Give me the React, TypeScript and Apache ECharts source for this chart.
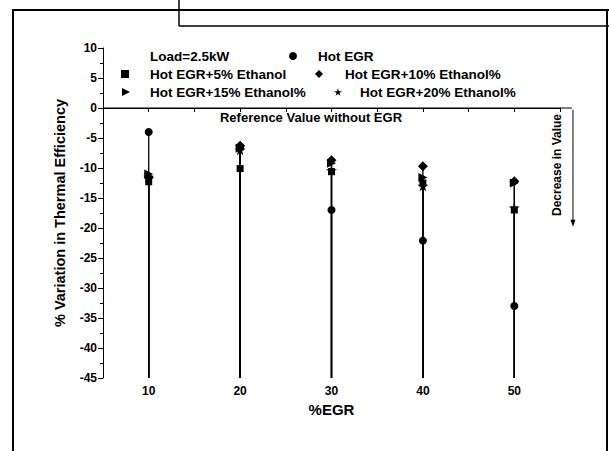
import React, { useEffect, useRef } from 'react';
import * as echarts from 'echarts';

const egr = [10, 20, 30, 40, 50];
const hotEGR = [-4.0, -6.5, -17.0, -22.1, -33.0];
const eth5 = [-12.3, -10.1, -10.6, -12.5, -17.0];
const eth10 = [-11.6, -6.3, -8.7, -9.7, -12.2];
const eth15 = [-11.0, -6.7, -9.2, -11.6, -12.5];
const eth20 = [-11.5, -7.0, -10.4, -13.0, -16.6];

const seriesNames = [
  'Hot EGR',
  'Hot EGR+5% Ethanol',
  'Hot EGR+10% Ethanol%',
  'Hot EGR+15% Ethanol%',
  'Hot EGR+20% Ethanol%',
];
const seriesValues = [hotEGR, eth5, eth10, eth15, eth20];

const xMin = 5;
const xMax = 55;
const yMin = -45;
const yMax = 10;
const refValue = 0;
const refLineEnd = 56.3;
const arrowX = 56.42;
const arrowFrom = -0.3;
const arrowTo = -19.8;

const FONT = '"Liberation Sans", Arial, sans-serif';

const STAR = 'path://M50,0 L61,35 L98,35 L68,57 L79,91 L50,70 L21,91 L32,57 L2,35 L39,35 Z';
const RTRI = 'path://M0,0 L10,5 L0,10 Z';
const symbols = ['circle', 'rect', 'diamond', RTRI, STAR];
const sizes = [8, 7, 10, 9, 11];

export default function App() {
  const ref = useRef<HTMLDivElement>(null);
  useEffect(() => {
    if (!ref.current) return;
    const chart = echarts.init(ref.current, undefined, { renderer: 'svg' });

    const scatter = seriesNames.map((name, i) => ({
      type: 'scatter',
      name,
      data: egr.map((x, j) => [x, seriesValues[i][j]]),
      symbol: symbols[i],
      symbolSize: sizes[i],
      symbolKeepAspect: true,
      itemStyle: { color: '#000', opacity: 1 },
      z: 3 + i,
    }));

    const stemData: number[][] = [];
    seriesValues.forEach((vals) => egr.forEach((x, j) => stemData.push([x, vals[j]])));

    const legendPos = [
      { left: 289, top: 48, pad: 16 },
      { left: 121, top: 66, pad: 16 },
      { left: 315, top: 66, pad: 17 },
      { left: 122, top: 84, pad: 15 },
      { left: 334, top: 84, pad: 13 },
    ];

    chart.setOption({
      animation: false,
      backgroundColor: '#fff',
      grid: { left: 103, top: 48, width: 457, height: 330 },
      legend: seriesNames.map((name, i) => ({
        data: [name],
        left: legendPos[i].left,
        top: legendPos[i].top,
        padding: 0,
        itemWidth: 8,
        itemHeight: 8,
        selectedMode: false,
        textStyle: {
          fontFamily: FONT,
          fontWeight: 'bold',
          fontSize: 13.5,
          color: '#000',
          lineHeight: 16,
          padding: [0, 0, 0, legendPos[i].pad],
        },
      })),
      xAxis: {
        type: 'value',
        min: xMin,
        max: xMax,
        interval: 5,
        name: '%EGR',
        nameLocation: 'middle',
        nameGap: 22,
        nameTextStyle: { fontFamily: FONT, fontWeight: 'bold', fontSize: 15, color: '#000' },
        axisLine: { show: true, lineStyle: { color: '#000', width: 1 } },
        axisTick: { show: true, length: 4, lineStyle: { color: '#000' } },
        axisLabel: {
          margin: 7,
          fontFamily: FONT,
          fontWeight: 'bold',
          fontSize: 12,
          color: '#000',
          formatter: (v: number) => (v % 10 === 0 ? String(v) : ''),
        },
        splitLine: { show: false },
      },
      yAxis: {
        type: 'value',
        min: yMin,
        max: yMax,
        interval: 5,
        name: '% Variation in Thermal Efficiency',
        nameLocation: 'middle',
        nameGap: 36,
        nameTextStyle: { fontFamily: FONT, fontWeight: 'bold', fontSize: 14.5, color: '#000' },
        axisLine: { show: true, lineStyle: { color: '#000', width: 1 } },
        axisTick: { show: true, length: 5, lineStyle: { color: '#000' } },
        minorTick: { show: true, splitNumber: 2, length: 3, lineStyle: { color: '#000' } },
        axisLabel: {
          margin: 6,
          fontFamily: FONT,
          fontWeight: 'bold',
          fontSize: 12,
          color: '#000',
        },
        splitLine: { show: false },
      },
      graphic: [
        { type: 'line', shape: { x1: 13, y1: 10, x2: 13, y2: 451 }, style: { stroke: '#000', lineWidth: 2 } },
        { type: 'line', shape: { x1: 12, y1: 10, x2: 609, y2: 10 }, style: { stroke: '#000', lineWidth: 2 } },
        { type: 'line', shape: { x1: 607, y1: 10, x2: 607, y2: 451 }, style: { stroke: '#000', lineWidth: 2 } },
        { type: 'line', shape: { x1: 179, y1: 0, x2: 179, y2: 26 }, style: { stroke: '#000', lineWidth: 1.5 } },
        { type: 'line', shape: { x1: 179, y1: 26, x2: 609, y2: 26 }, style: { stroke: '#000', lineWidth: 1.5 } },
        {
          type: 'text',
          left: 150,
          top: 49,
          style: { text: 'Load=2.5kW', font: `bold 13.5px ${FONT}`, fill: '#000' },
        },
        {
          type: 'text',
          x: 311,
          y: 117,
          style: {
            text: 'Reference Value without EGR',
            font: `bold 13px ${FONT}`,
            fill: '#000',
            align: 'center',
            verticalAlign: 'middle',
          },
        },
        {
          type: 'text',
          x: 557,
          y: 165,
          rotation: Math.PI / 2,
          style: {
            text: 'Decrease in Value',
            font: `bold 12px ${FONT}`,
            fill: '#000',
            align: 'center',
            verticalAlign: 'middle',
          },
        },
      ],
      series: [
        {
          type: 'custom',
          name: 'drop lines',
          silent: true,
          z: 1,
          data: stemData,
          renderItem: (params: any, api: any) => {
            const p1 = api.coord([api.value(0), api.value(1)]);
            const p2 = api.coord([api.value(0), yMin]);
            return {
              type: 'line',
              shape: { x1: p1[0], y1: p1[1], x2: p2[0], y2: p2[1] },
              style: { stroke: '#000', lineWidth: 1.3 },
            };
          },
        },
        {
          type: 'custom',
          name: 'reference',
          silent: true,
          clip: false,
          z: 2,
          data: [[refValue]],
          renderItem: (params: any, api: any) => {
            const a = api.coord([xMin, refValue]);
            const b = api.coord([refLineEnd, refValue]);
            const t = api.coord([arrowX, arrowFrom]);
            const e = api.coord([arrowX, arrowTo]);
            return {
              type: 'group',
              children: [
                {
                  type: 'line',
                  shape: { x1: a[0], y1: a[1], x2: b[0], y2: b[1] },
                  style: { stroke: '#000', lineWidth: 1 },
                },
                {
                  type: 'line',
                  shape: { x1: t[0], y1: t[1], x2: e[0], y2: e[1] - 6 },
                  style: { stroke: '#000', lineWidth: 1 },
                },
                {
                  type: 'polygon',
                  shape: {
                    points: [
                      [e[0] - 2.5, e[1] - 7],
                      [e[0] + 2.5, e[1] - 7],
                      [e[0], e[1]],
                    ],
                  },
                  style: { fill: '#000' },
                },
              ],
            };
          },
        },
        ...scatter,
      ],
    });
    return () => chart.dispose();
  }, []);
  return <div ref={ref} style={{ width: 609, height: 451, position: 'absolute', left: 0, top: 0 }} />;
}
